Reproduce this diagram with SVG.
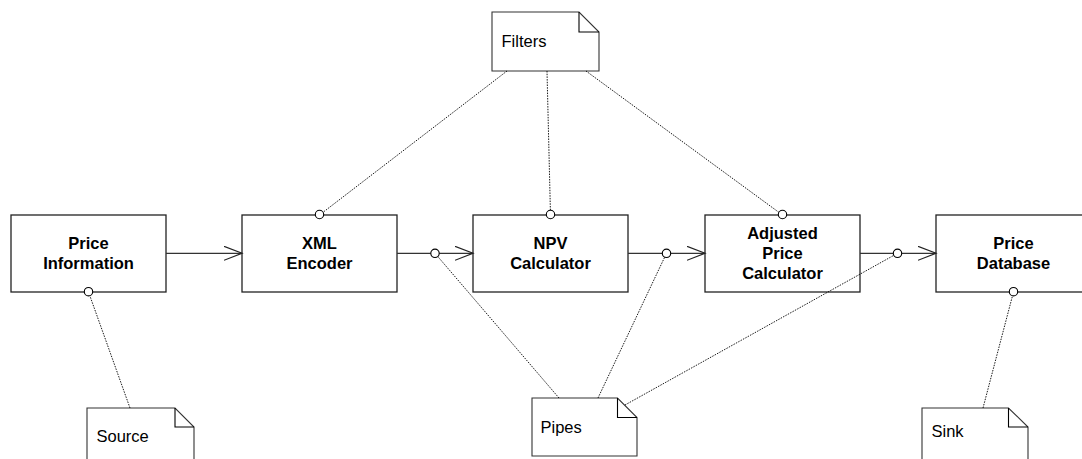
<svg xmlns="http://www.w3.org/2000/svg" width="1082" height="459" viewBox="0 0 1082 459">
<style>
.box{fill:#fff;stroke:#222;stroke-width:1.3}
.note{fill:#fff;stroke:#333;stroke-width:1.1}
.fold{fill:none;stroke:#000;stroke-width:1.1}
.bt{font-family:"Liberation Sans",Arial,sans-serif;font-weight:bold;font-size:16.5px;text-anchor:middle;fill:#000}
.nt{font-family:"Liberation Sans",Arial,sans-serif;font-size:16.5px;fill:#000}
.arr{stroke:#333;stroke-width:1.2;fill:none}
.dot{stroke:#000;stroke-width:0.9;stroke-dasharray:1.5 1.2;fill:none}
.port{fill:#fff;stroke:#000;stroke-width:1.1}
</style>
<defs>
<marker id="open" markerUnits="userSpaceOnUse" markerWidth="20" markerHeight="16" refX="18" refY="7" orient="auto">
<path d="M0,0 L18,7 L0,14" fill="none" stroke="#222" stroke-width="1.2"/>
</marker>
</defs>
<g id="price-information">
<rect class="box" x="11" y="215" width="155" height="77"/>
<text class="bt" x="88.5" y="249.3">Price</text>
<text class="bt" x="88.5" y="269.3">Information</text>
</g>
<g id="xml-encoder">
<rect class="box" x="242" y="215" width="155" height="77"/>
<text class="bt" x="319.5" y="249.3">XML</text>
<text class="bt" x="319.5" y="269.3">Encoder</text>
</g>
<g id="npv-calculator">
<rect class="box" x="473" y="215" width="155" height="77"/>
<text class="bt" x="550.5" y="249">NPV</text>
<text class="bt" x="550.5" y="269">Calculator</text>
</g>
<g id="adjusted-price-calculator">
<rect class="box" x="705" y="215" width="155" height="77"/>
<text class="bt" x="782.5" y="238.5">Adjusted</text>
<text class="bt" x="782.5" y="258.8">Price</text>
<text class="bt" x="782.5" y="279.2">Calculator</text>
</g>
<g id="price-database">
<rect class="box" x="936" y="215" width="155" height="77"/>
<text class="bt" x="1013.5" y="249.3">Price</text>
<text class="bt" x="1013.5" y="269.3">Database</text>
</g>
<g id="filters">
<path class="note" d="M492,12 H579 L599,32 V71 H492 Z"/>
<path class="fold" d="M579,12 V32 H599"/>
<text class="nt" x="501.5" y="46.7">Filters</text>
</g>
<g id="source">
<path class="note" d="M87,408 H175 L194,427 V470 H87 Z"/>
<path class="fold" d="M175,408 V427 H194"/>
<text class="nt" x="96.5" y="441.7">Source</text>
</g>
<g id="pipes">
<path class="note" d="M532,398 H617.5 L637,417.5 V456 H532 Z"/>
<path class="fold" d="M617.5,398 V417.5 H637"/>
<text class="nt" x="540.5" y="432.7">Pipes</text>
</g>
<g id="sink">
<path class="note" d="M922,408 H1008.5 L1028,427 V470 H922 Z"/>
<path class="fold" d="M1008.5,408 V427 H1028"/>
<text class="nt" x="931.5" y="436.5">Sink</text>
</g>
<g id="connectors">
<line class="arr" x1="166" y1="253.3" x2="242" y2="253.3" marker-end="url(#open)"/>
<line class="arr" x1="397" y1="253.3" x2="473" y2="253.3" marker-end="url(#open)"/>
<line class="arr" x1="628" y1="253.3" x2="705" y2="253.3" marker-end="url(#open)"/>
<line class="arr" x1="860" y1="253.3" x2="936" y2="253.3" marker-end="url(#open)"/>
<line class="dot" x1="507" y1="71" x2="319.5" y2="215"/>
<line class="dot" x1="547" y1="71" x2="550.5" y2="215"/>
<line class="dot" x1="586" y1="71" x2="782.5" y2="215"/>
<line class="dot" x1="130" y1="408" x2="88.5" y2="292"/>
<line class="dot" x1="559" y1="398" x2="435" y2="253.3"/>
<line class="dot" x1="598" y1="398" x2="666.5" y2="253.3"/>
<line class="dot" x1="625" y1="405" x2="897.5" y2="253.3"/>
<line class="dot" x1="983" y1="408" x2="1013.5" y2="292"/>
<circle class="port" cx="319.5" cy="214.5" r="4.2"/>
<circle class="port" cx="550.5" cy="214.5" r="4.2"/>
<circle class="port" cx="782.5" cy="214.5" r="4.2"/>
<circle class="port" cx="88.5" cy="291.7" r="4.2"/>
<circle class="port" cx="1013.5" cy="291.7" r="4.2"/>
<circle class="port" cx="435" cy="253.3" r="4.2"/>
<circle class="port" cx="666.5" cy="253.3" r="4.2"/>
<circle class="port" cx="897.5" cy="253.3" r="4.2"/>
</g>
</svg>
